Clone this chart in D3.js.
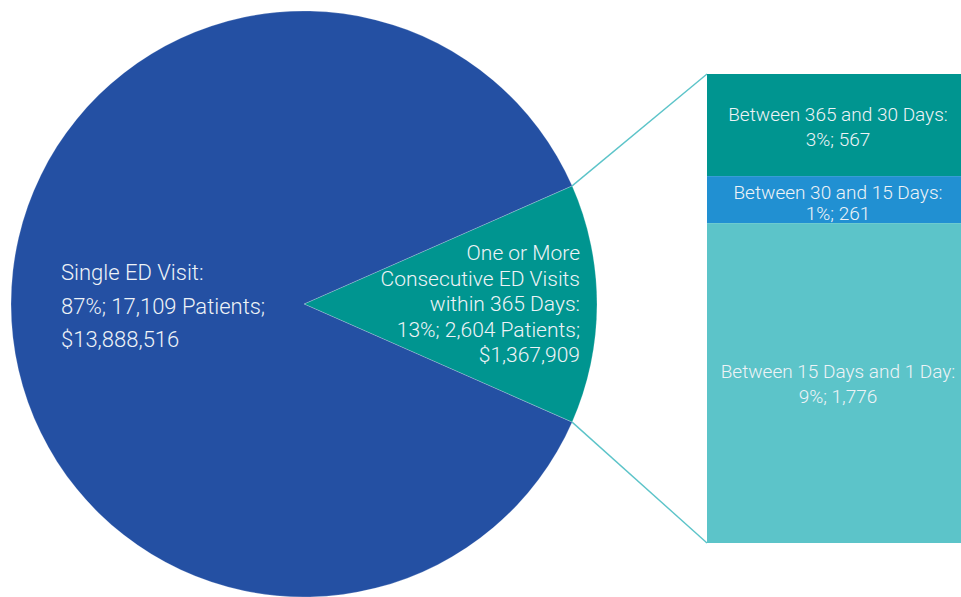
<!DOCTYPE html>
<meta charset="utf-8">
<style>
body { margin: 0; background: #fff; }
text { font-family: Roboto, "Open Sans", sans-serif; font-weight: 300; fill: #eef3f7; }
</style>
<body>
<script src="https://d3js.org/d3.v7.min.js"></script>
<script>

// pie data
var pieNames = ["One or More Consecutive ED Visits within 365 Days", "Single ED Visit"];
var piePatients = [2604, 17109];
var pieColors = ["#009590", "#2450a3"];
var pieLabels = [
  ["One or More", "Consecutive ED Visits", "within 365 Days:", "13%; 2,604 Patients;", "$1,367,909"],
  ["Single ED Visit:", "87%; 17,109 Patients;", "$13,888,516"]
];

// breakdown bar data (top to bottom)
var barNames = ["Between 365 and 30 Days", "Between 30 and 15 Days", "Between 15 Days and 1 Day"];
var barValues = [567, 261, 1776];
var barColors = ["#009590", "#2190d2", "#5cc4c9"];
var barLabels = [
  ["Between 365 and 30 Days:", "3%; 567"],
  ["Between 30 and 15 Days:", "1%; 261"],
  ["Between 15 Days and 1 Day:", "9%; 1,776"]
];

var width = 961, height = 597;
var cx = 304, cy = 304, r = 293;

var svg = d3.select("body").append("svg")
    .attr("width", width)
    .attr("height", height);

// teal slice centered on the right side
var half = Math.PI * piePatients[0] / d3.sum(piePatients);
var pie = d3.pie().sort(null)
    .startAngle(Math.PI / 2 - half)
    .endAngle(Math.PI / 2 - half + 2 * Math.PI);
var arcs = pie(piePatients);
var arc = d3.arc().innerRadius(0).outerRadius(r);

var g = svg.append("g").attr("transform", "translate(" + cx + "," + cy + ")");
g.selectAll("path")
    .data(arcs)
  .enter().append("path")
    .attr("d", arc)
    .attr("fill", function(d, i) { return pieColors[i]; })
    .attr("stroke", "rgba(255,255,255,0.35)")
    .attr("stroke-width", 0.6);

// bar scale
var barX0 = 707, barX1 = 961;
var y = d3.scaleLinear()
    .domain([0, d3.sum(barValues)])
    .range([74, 543]);

var cum = 0;
var stack = barValues.map(function(v) { var s = cum; cum += v; return {y0: s, y1: cum}; });

// connector lines from slice edge to bar corners
function pt(a) { return [cx + r * Math.sin(a), cy - r * Math.cos(a)]; }
var pTop = pt(arcs[0].startAngle), pBot = pt(arcs[0].endAngle);
svg.append("line")
    .attr("x1", pTop[0]).attr("y1", pTop[1])
    .attr("x2", barX0).attr("y2", y(0))
    .attr("stroke", "#5cc4c9").attr("stroke-width", 1.4);
svg.append("line")
    .attr("x1", pBot[0]).attr("y1", pBot[1])
    .attr("x2", barX0).attr("y2", y(d3.sum(barValues)))
    .attr("stroke", "#5cc4c9").attr("stroke-width", 1.4);

svg.selectAll(".seg")
    .data(stack)
  .enter().append("rect")
    .attr("class", "seg")
    .attr("x", barX0)
    .attr("width", barX1 - barX0)
    .attr("y", function(d) { return y(d.y0); })
    .attr("height", function(d) { return y(d.y1) - y(d.y0); })
    .attr("fill", function(d, i) { return barColors[i]; });

// bar labels
var barTextY = [115, 193, 372], barLine = [25, 21, 25];
barLabels.forEach(function(lines, i) {
  var t = svg.append("text")
      .attr("text-anchor", "middle")
      .style("font-size", "19px");
  lines.forEach(function(s, j) {
    t.append("tspan")
        .attr("x", 838)
        .attr("y", barTextY[i] + j * barLine[i] + 6)
        .text(s);
  });
});

// pie labels
var tl = svg.append("text").style("font-size", "22px");
pieLabels[1].forEach(function(s, j) {
  tl.append("tspan").attr("x", 61).attr("y", 280 + j * 33.5).text(s);
});
var tr = svg.append("text").attr("text-anchor", "end").style("font-size", "21px");
pieLabels[0].forEach(function(s, j) {
  tr.append("tspan").attr("x", 580).attr("y", 260 + j * 25.5).text(s);
});

</script>
</body>
